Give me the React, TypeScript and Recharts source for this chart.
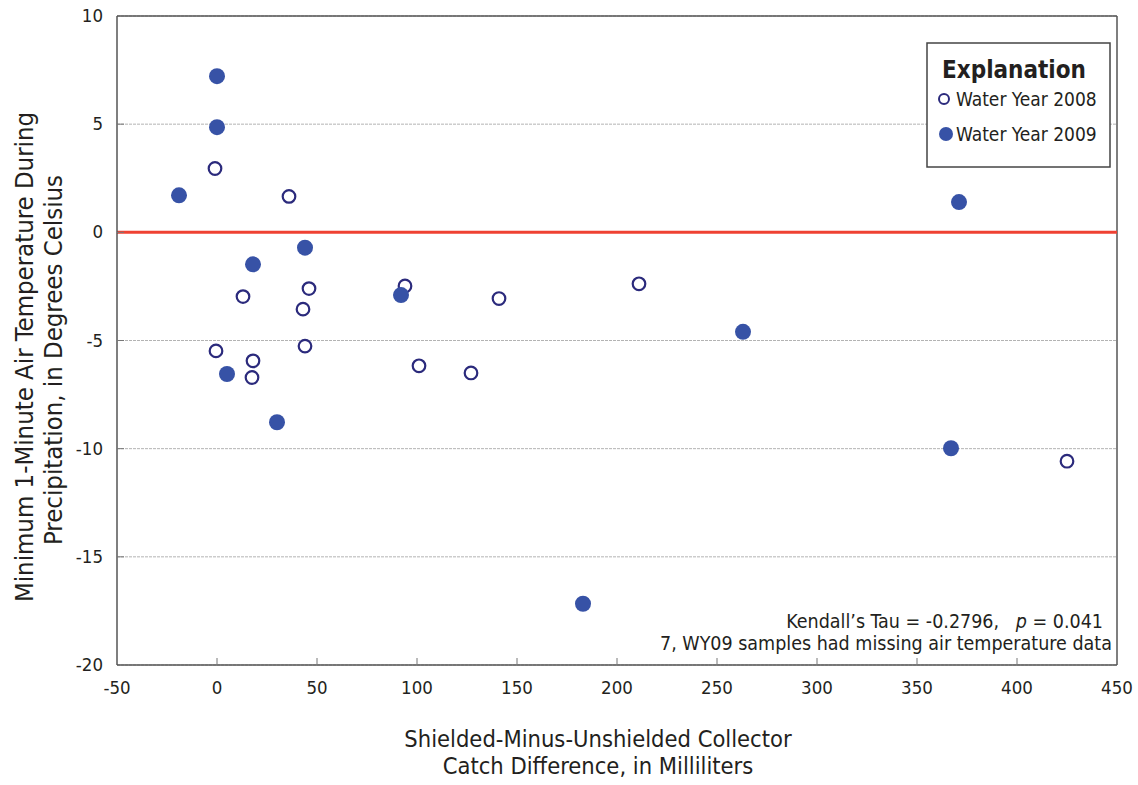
import { ScatterChart, Scatter, XAxis, YAxis, CartesianGrid, ReferenceLine, Label } from 'recharts';

// Shielded-minus-unshielded catch difference (mL) vs minimum 1-min air temperature (deg C)
const WY2008_X = [-1, 36, 13, 46, 43, 94, 141, -0.5, 44, 18, 17.5, 101, 127, 211, 425];
const WY2008_Y = [2.95, 1.66, -2.97, -2.6, -3.55, -2.48, -3.06, -5.48, -5.26, -5.94, -6.71, -6.17, -6.5, -2.38, -10.58];
const WY2009_X = [0, 0, -19, 44, 18, 92, 5, 30, 183, 263, 367, 371];
const WY2009_Y = [7.22, 4.86, 1.71, -0.71, -1.48, -2.9, -6.55, -8.78, -17.17, -4.6, -9.98, 1.4];

const X_TICKS = [-50, 0, 50, 100, 150, 200, 250, 300, 350, 400, 450];
const Y_TICKS = [-20, -15, -10, -5, 0, 5, 10];

const SERIES_NAMES = ['Water Year 2008', 'Water Year 2009'];

const FONT = '"Liberation Sans Narrow", "DejaVu Sans Condensed", "Roboto", sans-serif';
const TEXT = '#231f20';
const OPEN = '#2b2a7c';
const FILLED = '#3752a6';

const data2008 = WY2008_X.map((x, i) => ({ x, y: WY2008_Y[i] }));
const data2009 = WY2009_X.map((x, i) => ({ x, y: WY2009_Y[i] }));

const OpenDot = (props: any) => (
    <circle cx={props.cx} cy={props.cy} r={6.3} fill="#fff" stroke={OPEN} strokeWidth={2.2} />
);
const FilledDot = (props: any) => (
    <circle cx={props.cx} cy={props.cy} r={8} fill={FILLED} />
);

const XTick = (props: any) => {
    const { x, y, payload } = props;
    const inner = payload.value > -50 && payload.value < 450;
    return (
        <g>
            {inner && <line x1={x} y1={y} x2={x} y2={y - 7} stroke="#777" strokeWidth={1} />}
            <text x={x} y={y + 29} textAnchor="middle" fontFamily={FONT} fontSize={18.5} fill={TEXT}>
                {payload.value}
            </text>
        </g>
    );
};

const YTick = (props: any) => {
    const { x, y, payload } = props;
    const inner = payload.value > -20 && payload.value < 10;
    return (
        <g>
            {inner && <line x1={x} y1={y} x2={x + 7} y2={y} stroke="#777" strokeWidth={1} />}
            <text x={x - 14} y={y + 6} textAnchor="end" fontFamily={FONT} fontSize={18.5} fill={TEXT}>
                {payload.value}
            </text>
        </g>
    );
};

export default function App() {
    return (
        <div style={{ position: 'absolute', left: 0, top: 0, width: 1138, height: 785, background: '#fff' }}>
            <ScatterChart width={1138} height={785} margin={{ top: 16, right: 21, bottom: 80, left: 47 }}>
                <CartesianGrid horizontal vertical={false} stroke="#b3b3b3" strokeDasharray="3 1" />
                <XAxis
                    type="number"
                    dataKey="x"
                    domain={[-50, 450]}
                    ticks={X_TICKS}
                    interval={0}
                    height={40}
                    tickSize={0}
                    tickMargin={0}
                    tick={<XTick />}
                    axisLine={{ stroke: '#555', strokeWidth: 1.5 }}
                    allowDataOverflow
                >
                    <Label
                        content={() => (
                            <g fontFamily={FONT} fontSize={23.5} fill={TEXT}>
                                <text x={598} y={747} textAnchor="middle">Shielded-Minus-Unshielded Collector</text>
                                <text x={598} y={774} textAnchor="middle">Catch Difference, in Milliliters</text>
                            </g>
                        )}
                    />
                </XAxis>
                <YAxis
                    type="number"
                    dataKey="y"
                    domain={[-20, 10]}
                    ticks={Y_TICKS}
                    interval={0}
                    width={70}
                    tickSize={0}
                    tickMargin={0}
                    tick={<YTick />}
                    axisLine={{ stroke: '#555', strokeWidth: 1.5 }}
                    allowDataOverflow
                >
                    <Label
                        content={() => (
                            <g fontFamily={FONT} fontSize={25.5} fill={TEXT}>
                                <text x={33} y={357} textAnchor="middle" transform="rotate(-90 33 357)">
                                    Minimum 1-Minute Air Temperature During
                                </text>
                                <text x={62} y={360} textAnchor="middle" transform="rotate(-90 62 360)">
                                    Precipitation, in Degrees Celsius
                                </text>
                            </g>
                        )}
                    />
                </YAxis>
                <ReferenceLine y={10} stroke="#555" strokeWidth={1.5} />
                <ReferenceLine x={450} stroke="#555" strokeWidth={1.5} />
                <ReferenceLine y={0} stroke="#ef4133" strokeWidth={3} />
                <Scatter name={SERIES_NAMES[0]} data={data2008} shape={<OpenDot />} isAnimationActive={false} />
                <Scatter name={SERIES_NAMES[1]} data={data2009} shape={<FilledDot />} isAnimationActive={false} />
            </ScatterChart>
            <svg
                width={1138}
                height={785}
                style={{ position: 'absolute', left: 0, top: 0, pointerEvents: 'none' }}
            >
                {/* Legend box */}
                <g transform="translate(927 43)">
                    <rect x={0} y={0} width={183} height={124} fill="#fff" stroke="#444" strokeWidth={1.5} />
                    <text x={15} y={35} fontFamily={FONT} fontWeight="bold" fontSize={24} fill={TEXT}>
                        Explanation
                    </text>
                    <circle cx={17} cy={56} r={5} fill="#fff" stroke={OPEN} strokeWidth={2} />
                    <text x={29} y={63} fontFamily={FONT} fontSize={19} fill={TEXT}>{SERIES_NAMES[0]}</text>
                    <circle cx={19} cy={91} r={7} fill={FILLED} />
                    <text x={29} y={98} fontFamily={FONT} fontSize={19} fill={TEXT}>{SERIES_NAMES[1]}</text>
                </g>
                <g fontFamily={FONT} fontSize={19.5} fill={TEXT}>
                    <text x={1103} y={628} textAnchor="end">
                        {'Kendall’s Tau = -0.2796,\u00a0\u00a0\u00a0'}
                        <tspan fontStyle="italic">p</tspan> = 0.041
                    </text>
                    <text x={1112} y={650} textAnchor="end">7, WY09 samples had missing air temperature data</text>
                </g>
            </svg>
        </div>
    );
}
